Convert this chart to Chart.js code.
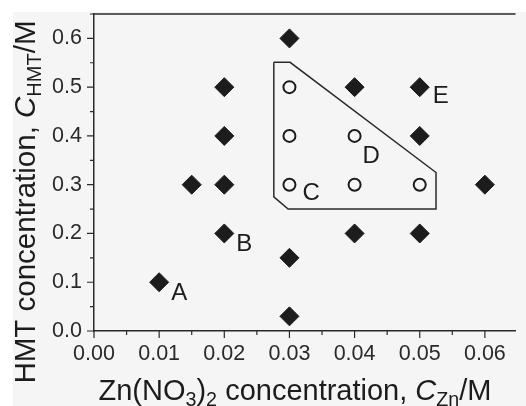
<!DOCTYPE html>
<html>
<head>
<meta charset="utf-8">
<script src="https://cdn.jsdelivr.net/npm/chart.js@4"></script>
<style>
  html, body { margin: 0; padding: 0; background: #fff; overflow: hidden; }
  #wrap { width: 526px; height: 406px; }
</style>
</head>
<body>
<div id="wrap"><canvas id="chart" width="526" height="406"></canvas></div>
<script>
// data
const xTicks = [0, 0.01, 0.02, 0.03, 0.04, 0.05, 0.06];
const yTicks = [0, 0.1, 0.2, 0.3, 0.4, 0.5, 0.6];

// filled diamonds
const filledX = [0.01, 0.015, 0.02, 0.02, 0.02, 0.02, 0.03, 0.03, 0.03, 0.04, 0.04, 0.05, 0.05, 0.05, 0.06];
const filledY = [0.10, 0.30, 0.20, 0.30, 0.40, 0.50, 0.60, 0.15, 0.03, 0.50, 0.20, 0.50, 0.40, 0.20, 0.30];

// open circles
const openX = [0.03, 0.03, 0.03, 0.04, 0.04, 0.05];
const openY = [0.50, 0.40, 0.30, 0.40, 0.30, 0.30];

// outlined region around the open circles
const regionX = [0.0276, 0.0301, 0.0525, 0.0525, 0.0298, 0.0276, 0.0276];
const regionY = [0.551, 0.551, 0.325, 0.250, 0.250, 0.275, 0.551];

// letter labels, anchored at the point they name
const labelText = ['A', 'B', 'C', 'D', 'E'];
const labelX = [0.01, 0.02, 0.03, 0.04, 0.05];
const labelY = [0.10, 0.20, 0.30, 0.40, 0.50];

const FONT = '"Liberation Sans", Arial, sans-serif';
const INK = '#1c1c1c';

function zip(xs, ys) {
  return xs.map((x, i) => ({ x: x, y: ys[i] }));
}

// draws a line of text with subscripts / italics, centred on (x, y)
function richText(ctx, parts, x, y, size) {
  const pieces = parts.map(p => {
    const s = p.sub ? size * 0.68 : size;
    const f = (p.it ? 'italic ' : '') + s + 'px ' + FONT;
    ctx.font = f;
    return { t: p.t, f: f, w: ctx.measureText(p.t).width, dy: p.sub ? size * 0.22 : 0 };
  });
  const total = pieces.reduce((a, p) => a + p.w, 0);
  let cx = x - total / 2;
  ctx.textAlign = 'left';
  ctx.textBaseline = 'alphabetic';
  pieces.forEach(p => {
    ctx.font = p.f;
    ctx.fillText(p.t, cx, y + p.dy);
    cx += p.w;
  });
}

const framePlugin = {
  id: 'frame',
  beforeDraw(chart) {
    const ctx = chart.ctx;
    ctx.save();
    ctx.fillStyle = '#f5f5f5';
    ctx.fillRect(13, 12, chart.width - 13, chart.height - 12);
    ctx.restore();
  },
  afterDraw(chart) {
    const ctx = chart.ctx;
    const a = chart.chartArea;
    const sx = chart.scales.x, sy = chart.scales.y;
    ctx.save();
    ctx.strokeStyle = '#2a2a2a';
    ctx.lineWidth = 1.5;

    // top border
    ctx.beginPath();
    ctx.moveTo(a.left, a.top);
    ctx.lineTo(a.right, a.top);
    ctx.stroke();

    // major and minor tick marks, outward
    ctx.lineWidth = 1.2;
    ctx.beginPath();
    for (let i = 0; i <= 13; i++) {
      const v = i * 0.005;
      const px = sx.getPixelForValue(v);
      if (px > a.right) break;
      const len = i % 2 === 0 ? 7 : 4;
      ctx.moveTo(px, a.bottom);
      ctx.lineTo(px, a.bottom + len);
    }
    for (let i = 0; i <= 13; i++) {
      const v = i * 0.05;
      const py = sy.getPixelForValue(v);
      const len = i % 2 === 0 ? 7 : 4;
      ctx.moveTo(a.left, py);
      ctx.lineTo(a.left - len, py);
    }
    ctx.stroke();

    // point letters
    ctx.fillStyle = INK;
    ctx.font = '24px ' + FONT;
    ctx.textAlign = 'left';
    ctx.textBaseline = 'alphabetic';
    const offs = [[12, 18], [12, 18], [13, 15], [8, 27], [13, 16]];
    labelText.forEach((t, i) => {
      const px = sx.getPixelForValue(labelX[i]);
      const py = sy.getPixelForValue(labelY[i]);
      ctx.fillText(t, px + offs[i][0], py + offs[i][1]);
    });

    // axis titles
    ctx.fillStyle = INK;
    richText(ctx, [
      { t: 'Zn(NO' }, { t: '3', sub: true }, { t: ')' }, { t: '2', sub: true },
      { t: ' concentration, ' }, { t: 'C', it: true }, { t: 'Zn', sub: true }, { t: '/M' }
    ], 295, 400, 29);

    ctx.translate(35, 202);
    ctx.rotate(-Math.PI / 2);
    richText(ctx, [
      { t: 'HMT concentration, ' }, { t: 'C', it: true }, { t: 'HMT', sub: true }, { t: '/M' }
    ], 0, 0, 29.5);
    ctx.restore();
  }
};

new Chart(document.getElementById('chart'), {
  type: 'scatter',
  data: {
    datasets: [
      {
        label: 'region',
        type: 'line',
        data: zip(regionX, regionY),
        showLine: true,
        fill: false,
        tension: 0,
        pointRadius: 0,
        borderColor: '#2a2a2a',
        borderWidth: 1.5
      },
      {
        label: 'filled',
        data: zip(filledX, filledY),
        pointStyle: 'rectRot',
        pointRadius: 9.5,
        backgroundColor: INK,
        borderColor: INK,
        borderWidth: 1
      },
      {
        label: 'open',
        data: zip(openX, openY),
        pointStyle: 'circle',
        pointRadius: 6,
        backgroundColor: 'rgba(0,0,0,0)',
        borderColor: INK,
        borderWidth: 2
      }
    ]
  },
  options: {
    responsive: false,
    animation: false,
    events: [],
    layout: { padding: { top: 14, left: 0, right: 0, bottom: 0 } },
    plugins: {
      legend: { display: false },
      tooltip: { enabled: false }
    },
    scales: {
      x: {
        type: 'linear',
        min: 0,
        max: 0.0647,
        afterFit: s => { s.height = 75; s.paddingLeft = 0; s.paddingRight = 0; },
        afterBuildTicks: s => { s.ticks = xTicks.map(v => ({ value: v })); },
        grid: { display: false, drawTicks: false },
        border: { display: true, color: '#2a2a2a', width: 1.5 },
        ticks: {
          padding: 10,
          color: '#2a2a2a',
          font: { family: FONT, size: 21.5 },
          maxRotation: 0,
          callback: v => v.toFixed(2)
        }
      },
      y: {
        type: 'linear',
        min: 0,
        max: 0.65,
        afterFit: s => { s.width = 94; s.paddingTop = 0; s.paddingBottom = 0; },
        afterBuildTicks: s => { s.ticks = yTicks.map(v => ({ value: v })); },
        grid: { display: false, drawTicks: false },
        border: { display: true, color: '#2a2a2a', width: 1.5 },
        ticks: {
          padding: 12,
          color: '#2a2a2a',
          font: { family: FONT, size: 21.5 },
          callback: v => v.toFixed(1)
        }
      }
    }
  },
  plugins: [framePlugin]
});
</script>
</body>
</html>
